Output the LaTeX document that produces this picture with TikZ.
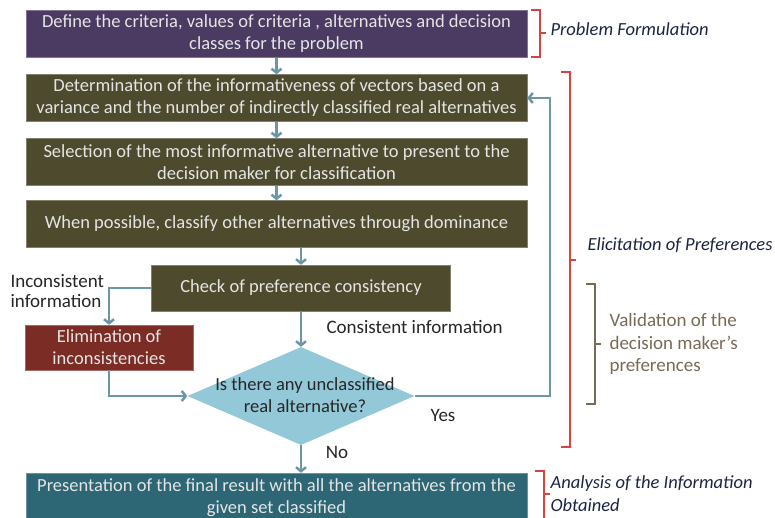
\documentclass[tikz,border=0pt]{standalone}
\usepackage{fontspec}
\setmainfont{Carlito}
\usetikzlibrary{shapes.geometric,arrows.meta}
\definecolor{morado}{HTML}{4B3A62}
\definecolor{oliva}{HTML}{4E4A2D}
\definecolor{granate}{HTML}{7B2C25}
\definecolor{celeste}{HTML}{92C8D8}
\definecolor{petroleo}{HTML}{2D6674}
\definecolor{azulgris}{HTML}{6B97A5}
\definecolor{rojo}{HTML}{D5453F}
\definecolor{pardo}{HTML}{7A6A55}
\definecolor{marino}{HTML}{1C2444}
% llave: x de los ganchos, arriba, abajo, punta, color
\newcommand{\Llave}[5]{%
  \draw[#5,line width=1.3pt] (#1,#2) -- ({#1+9},#2) -- ({#1+9},#3) -- (#1,#3);
  \draw[#5,line width=1.3pt] ({#1+9},#4) -- ({#1+15},#4);
}

\begin{document}
\begin{tikzpicture}[x=1pt,y=-1pt,
    caja/.style={rectangle,minimum width=501pt,minimum height=47pt,inner sep=0pt,
      align=center,text=white!90!black,font=\fontsize{18.5}{22}\selectfont},
    flecha/.style={draw=azulgris,line width=2.5pt,
      -{Straight Barb[length=4pt,width=10pt]}},
    etiqueta/.style={text=black!85,font=\fontsize{19}{20}\selectfont},
    fase/.style={anchor=west,align=left,text=marino,
      font=\fontsize{18.5}{23}\selectfont\itshape}]
  \useasboundingbox (0,0) rectangle (775,518);

  % cajas del proceso
  \node[caja,fill=morado,draw=morado!70!white] (definir) at (276.5,34)
    {Define the criteria, values of criteria , alternatives and decision\\classes for the problem};
  \node[caja,fill=oliva,draw=oliva!70!white] (determinar) at (276.5,98)
    {Determination of the informativeness of vectors based on a\\variance and the number of indirectly classified real alternatives};
  \node[caja,fill=oliva,draw=oliva!70!white] (seleccionar) at (276.5,162)
    {Selection of the most informative alternative to present to the\\decision maker for classification};
  \node[caja,fill=oliva,draw=oliva!70!white] (clasificar) at (276.5,224)
    {When possible, classify other alternatives through dominance};
  \node[caja,fill=oliva,draw=oliva!70!white,minimum width=299pt,minimum height=46pt]
    (chequear) at (301,288) {Check of preference consistency};
  \node[caja,fill=granate,draw=granate!70!white,minimum width=168pt,minimum height=45pt]
    (eliminar) at (109,347.5) {Elimination of\\inconsistencies};
  \node[diamond,fill=celeste,minimum width=227pt,minimum height=98pt,aspect=2.3,
    inner sep=0pt] (pregunta) at (301,396) {};
  \node[align=center,text=black!85,font=\fontsize{18.5}{22}\selectfont]
    (preguntatexto) at (305,395) {Is there any unclassified\\real alternative?};
  \node[caja,fill=petroleo,draw=petroleo!70!white,minimum height=50pt]
    (presentar) at (276.5,498)
    {Presentation of the final result with all the alternatives from the\\given set classified};

  % conectores
  \coordinate (retorno) at (550,0);
  \draw[flecha] (definir) -- (determinar);
  \draw[flecha] (determinar) -- (seleccionar);
  \draw[flecha] (seleccionar) -- (clasificar);
  \draw[flecha] (clasificar.south -| chequear.north) -- (chequear.north);
  \draw[flecha] (chequear) -- (pregunta);
  \draw[flecha] (chequear.west) -| (eliminar.north);
  \draw[flecha] (eliminar.south) |- (pregunta.west);
  \draw[flecha] (pregunta.east) -| (retorno |- determinar.east) -- (determinar.east);
  \draw[flecha] (pregunta.south) -- (pregunta.south |- presentar.north);

  % rotulos de las ramas
  \node[etiqueta,anchor=west,align=left] (inconsistente) at (7,291)
    {Inconsistent\\information};
  \node[etiqueta,anchor=west] (consistente) at (323,327) {Consistent information};
  \node[etiqueta] (si) at (443,415) {Yes};
  \node[etiqueta] (no) at (337,452) {No};

  % fases del metodo
  \Llave{531}{10}{57}{33}{rojo}
  \node[fase] (formulacion) at (547,29) {Problem Formulation};
  \Llave{561}{72}{447}{260}{rojo}
  \node[fase] (elicitacion) at (584,245) {Elicitation of Preferences};
  \Llave{586}{284}{404}{344}{pardo}
  \node[anchor=west,align=left,text=pardo,font=\fontsize{19}{22.5}\selectfont]
    (validacion) at (606,344) {Validation of the\\decision maker's\\preferences};
  \Llave{535}{471}{530}{494}{rojo}
  \node[fase] (analisis) at (547,494) {Analysis of the Information\\Obtained};
\end{tikzpicture}
\end{document}
